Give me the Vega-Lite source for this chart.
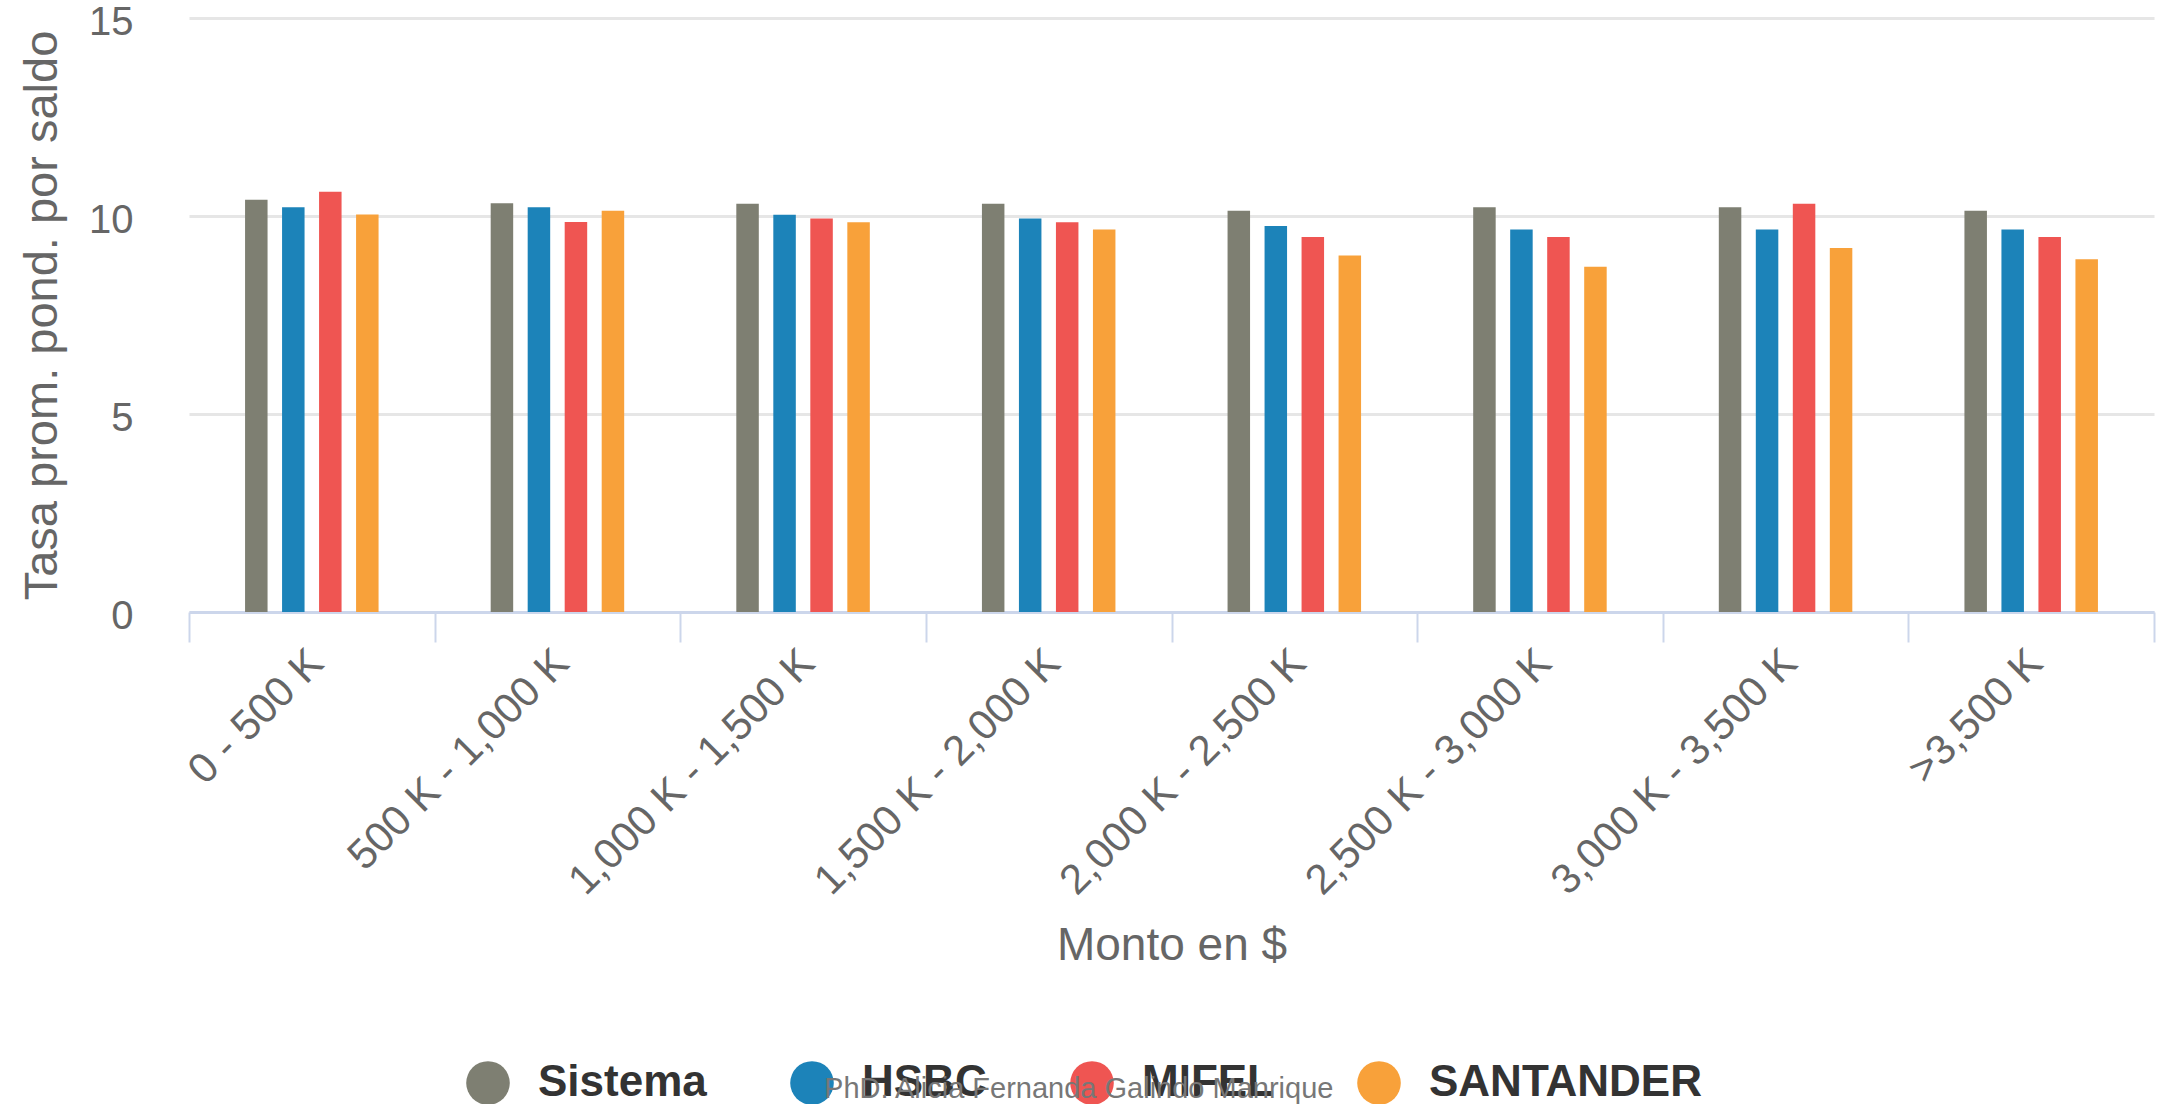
{
  "$schema": "https://vega.github.io/schema/vega-lite/v6.json",
  "width": 1965,
  "height": 594,
  "autosize": {"type": "none"},
  "padding": {"left": 189, "top": 18, "right": 11, "bottom": 492},
  "background": "#ffffff",
  "title": {
    "text": "PhD. Alicia Fernanda Galindo Manrique",
    "orient": "bottom",
    "anchor": "middle",
    "frame": "bounds",
    "fontSize": 29,
    "font": "Liberation Sans",
    "fontWeight": "normal",
    "color": "#777777",
    "baseline": "middle",
    "offset": -16,
    "dx": -8
  },
  "data": {
    "values": [
      {"monto": "0 - 500 K", "banco": "Sistema", "tasa": 10.41},
      {"monto": "0 - 500 K", "banco": "HSBC", "tasa": 10.22},
      {"monto": "0 - 500 K", "banco": "MIFEL", "tasa": 10.61},
      {"monto": "0 - 500 K", "banco": "SANTANDER", "tasa": 10.04},
      {"monto": "500 K - 1,000 K", "banco": "Sistema", "tasa": 10.32},
      {"monto": "500 K - 1,000 K", "banco": "HSBC", "tasa": 10.22},
      {"monto": "500 K - 1,000 K", "banco": "MIFEL", "tasa": 9.85},
      {"monto": "500 K - 1,000 K", "banco": "SANTANDER", "tasa": 10.13},
      {"monto": "1,000 K - 1,500 K", "banco": "Sistema", "tasa": 10.31},
      {"monto": "1,000 K - 1,500 K", "banco": "HSBC", "tasa": 10.03},
      {"monto": "1,000 K - 1,500 K", "banco": "MIFEL", "tasa": 9.94},
      {"monto": "1,000 K - 1,500 K", "banco": "SANTANDER", "tasa": 9.84},
      {"monto": "1,500 K - 2,000 K", "banco": "Sistema", "tasa": 10.31},
      {"monto": "1,500 K - 2,000 K", "banco": "HSBC", "tasa": 9.94},
      {"monto": "1,500 K - 2,000 K", "banco": "MIFEL", "tasa": 9.84},
      {"monto": "1,500 K - 2,000 K", "banco": "SANTANDER", "tasa": 9.66},
      {"monto": "2,000 K - 2,500 K", "banco": "Sistema", "tasa": 10.13},
      {"monto": "2,000 K - 2,500 K", "banco": "HSBC", "tasa": 9.75},
      {"monto": "2,000 K - 2,500 K", "banco": "MIFEL", "tasa": 9.47},
      {"monto": "2,000 K - 2,500 K", "banco": "SANTANDER", "tasa": 9.0},
      {"monto": "2,500 K - 3,000 K", "banco": "Sistema", "tasa": 10.22},
      {"monto": "2,500 K - 3,000 K", "banco": "HSBC", "tasa": 9.66},
      {"monto": "2,500 K - 3,000 K", "banco": "MIFEL", "tasa": 9.47},
      {"monto": "2,500 K - 3,000 K", "banco": "SANTANDER", "tasa": 8.72},
      {"monto": "3,000 K - 3,500 K", "banco": "Sistema", "tasa": 10.22},
      {"monto": "3,000 K - 3,500 K", "banco": "HSBC", "tasa": 9.66},
      {"monto": "3,000 K - 3,500 K", "banco": "MIFEL", "tasa": 10.31},
      {"monto": "3,000 K - 3,500 K", "banco": "SANTANDER", "tasa": 9.19},
      {"monto": ">3,500 K", "banco": "Sistema", "tasa": 10.13},
      {"monto": ">3,500 K", "banco": "HSBC", "tasa": 9.66},
      {"monto": ">3,500 K", "banco": "MIFEL", "tasa": 9.47},
      {"monto": ">3,500 K", "banco": "SANTANDER", "tasa": 8.91}
    ]
  },
  "mark": {"type": "bar"},
  "encoding": {
    "x": {
      "field": "monto",
      "type": "nominal",
      "sort": null,
      "scale": {"paddingInner": 0, "paddingOuter": 0},
      "axis": {
        "title": "Monto en $",
        "titleFontSize": 46,
        "titleFontWeight": "normal",
        "titleColor": "#666666",
        "titleY": 333,
        "titleBaseline": "middle",
        "labelAngle": -45,
        "labelAlign": "right",
        "labelBaseline": "middle",
        "labelFontSize": 42,
        "labelColor": "#666666",
        "labelPadding": 14,
        "labelOffset": 4,
        "labelLimit": 0,
        "tickBand": "extent",
        "tickSize": 30,
        "tickColor": "#ccd6eb",
        "tickWidth": 2,
        "domainColor": "#ccd6eb",
        "domainWidth": 3,
        "grid": false
      }
    },
    "xOffset": {
      "field": "banco",
      "type": "nominal",
      "scale": {
        "domain": ["pad_a", "Sistema", "HSBC", "MIFEL", "SANTANDER", "pad_b"],
        "paddingInner": 0.392,
        "paddingOuter": 0.515
      }
    },
    "y": {
      "field": "tasa",
      "type": "quantitative",
      "scale": {"domain": [0, 15], "nice": false},
      "axis": {
        "title": "Tasa prom. pond. por saldo",
        "titleFontSize": 47,
        "titleFontWeight": "normal",
        "titleColor": "#666666",
        "titlePadding": 22,
        "values": [0, 5, 10, 15],
        "labelFontSize": 40,
        "labelColor": "#666666",
        "labelPadding": 56,
        "labelOffset": 4,
        "ticks": false,
        "domain": false,
        "gridColor": "#e6e6e6",
        "gridWidth": 3
      }
    },
    "color": {
      "field": "banco",
      "type": "nominal",
      "sort": ["Sistema", "HSBC", "MIFEL", "SANTANDER"],
      "scale": {
        "domain": ["Sistema", "HSBC", "MIFEL", "SANTANDER"],
        "range": ["#7e7f72", "#1c83b9", "#ef5552", "#f8a13a"]
      },
      "legend": {
        "title": null,
        "orient": "none",
        "direction": "horizontal",
        "legendX": 277,
        "legendY": 1043,
        "symbolType": "circle",
        "symbolSize": 1900,
        "symbolStrokeWidth": 0,
        "labelFontSize": 44,
        "labelFontWeight": "bold",
        "labelColor": "#333333",
        "labelOffset": 28,
        "labelLimit": 0,
        "columnPadding": 83,
        "padding": 0
      }
    }
  },
  "config": {
    "font": "Liberation Sans",
    "view": {"stroke": null}
  }
}
